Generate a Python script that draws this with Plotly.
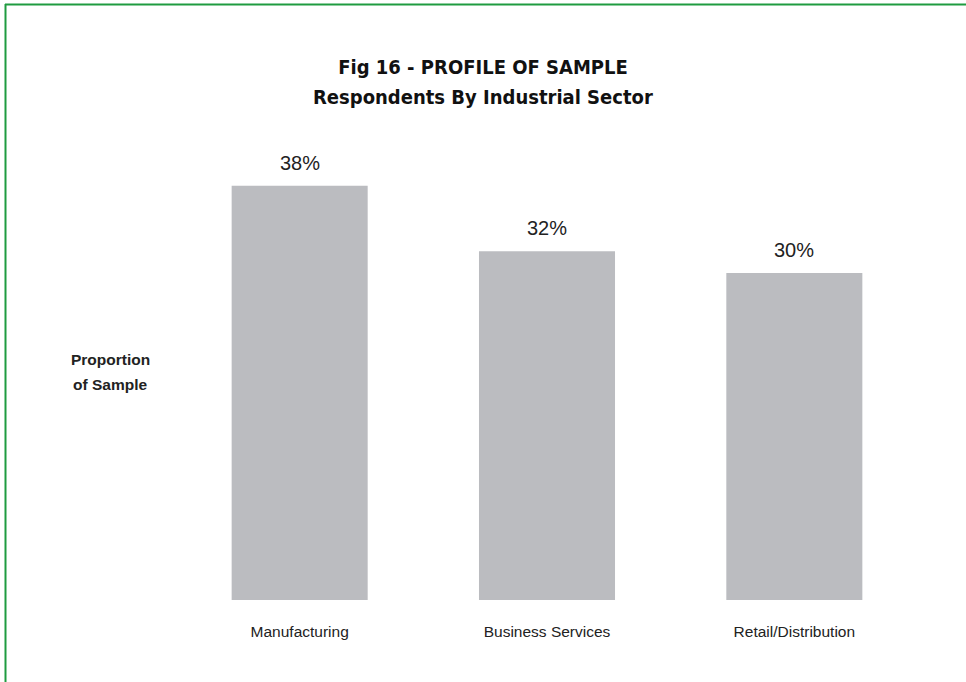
import plotly.graph_objects as go

# Survey breakdown by industrial sector
sectors = ["Manufacturing", "Business Services", "Retail/Distribution"]
share_pct = [38, 32, 30]
value_labels = [f"{v}%" for v in share_pct]

W, H = 966, 682
M_L, M_R, M_T, M_B = 176, 48, 150, 82
plot_w = W - M_L - M_R
plot_h = H - M_T - M_B
y_max = plot_h / 10.9

condensed = "DejaVu Sans Condensed, sans-serif"
regular = "Liberation Sans, Arial, sans-serif"


def px_x(x):
    return (x - M_L) / plot_w


def px_y(y):
    return (H - M_B - y) / plot_h


fig = go.Figure(
    go.Bar(
        x=sectors,
        y=share_pct,
        marker=dict(color="#bbbcc0", line=dict(width=0)),
        width=0.55,
        hoverinfo="skip",
    )
)

# value labels above each bar
for s, v, lab in zip(sectors, share_pct, value_labels):
    fig.add_annotation(
        x=s, y=v, text=lab, showarrow=False, yanchor="bottom", yshift=10,
        font=dict(family=regular, size=20, color="#222222"),
    )

# second title line
fig.add_annotation(
    xref="paper", yref="paper", x=px_x(W / 2), y=px_y(97),
    text="<b>Respondents By Industrial Sector</b>", showarrow=False,
    xanchor="center", yanchor="middle",
    font=dict(family=condensed, size=20, color="#111111"),
)

# axis caption on the left, one annotation per line
for text, y in (("<b>Proportion</b>", 359), ("<b>of Sample</b>", 384)):
    fig.add_annotation(
        xref="paper", yref="paper", x=px_x(110), y=px_y(y),
        text=text, showarrow=False, xanchor="center", yanchor="middle",
        font=dict(family=regular, size=15.5, color="#222222"),
    )

# green frame along the top and left edges
green = "#1f9b40"
fig.add_shape(type="line", xref="paper", yref="paper",
              x0=px_x(5), x1=px_x(W + 2), y0=px_y(4.5), y1=px_y(4.5),
              line=dict(color=green, width=2))
fig.add_shape(type="line", xref="paper", yref="paper",
              x0=px_x(5.5), x1=px_x(5.5), y0=px_y(4), y1=px_y(H + 2),
              line=dict(color=green, width=2))

fig.update_layout(
    width=W, height=H,
    margin=dict(l=M_L, r=M_R, t=M_T, b=M_B),
    paper_bgcolor="white", plot_bgcolor="white",
    showlegend=False,
    title=dict(
        text="<b>Fig 16 - PROFILE OF SAMPLE</b>",
        x=0.5, xanchor="center", xref="container",
        y=1 - 67 / H, yanchor="middle", yref="container",
        font=dict(family=condensed, size=20, color="#111111"),
    ),
    xaxis=dict(
        showline=False, showgrid=False, zeroline=False, ticks="",
        ticklabelstandoff=20,
        tickfont=dict(family=regular, size=15.5, color="#222222"),
        range=[-0.5, 2.5],
    ),
    yaxis=dict(
        visible=False, range=[0, y_max], showgrid=False, zeroline=False,
    ),
)

fig.write_html("out.html")
